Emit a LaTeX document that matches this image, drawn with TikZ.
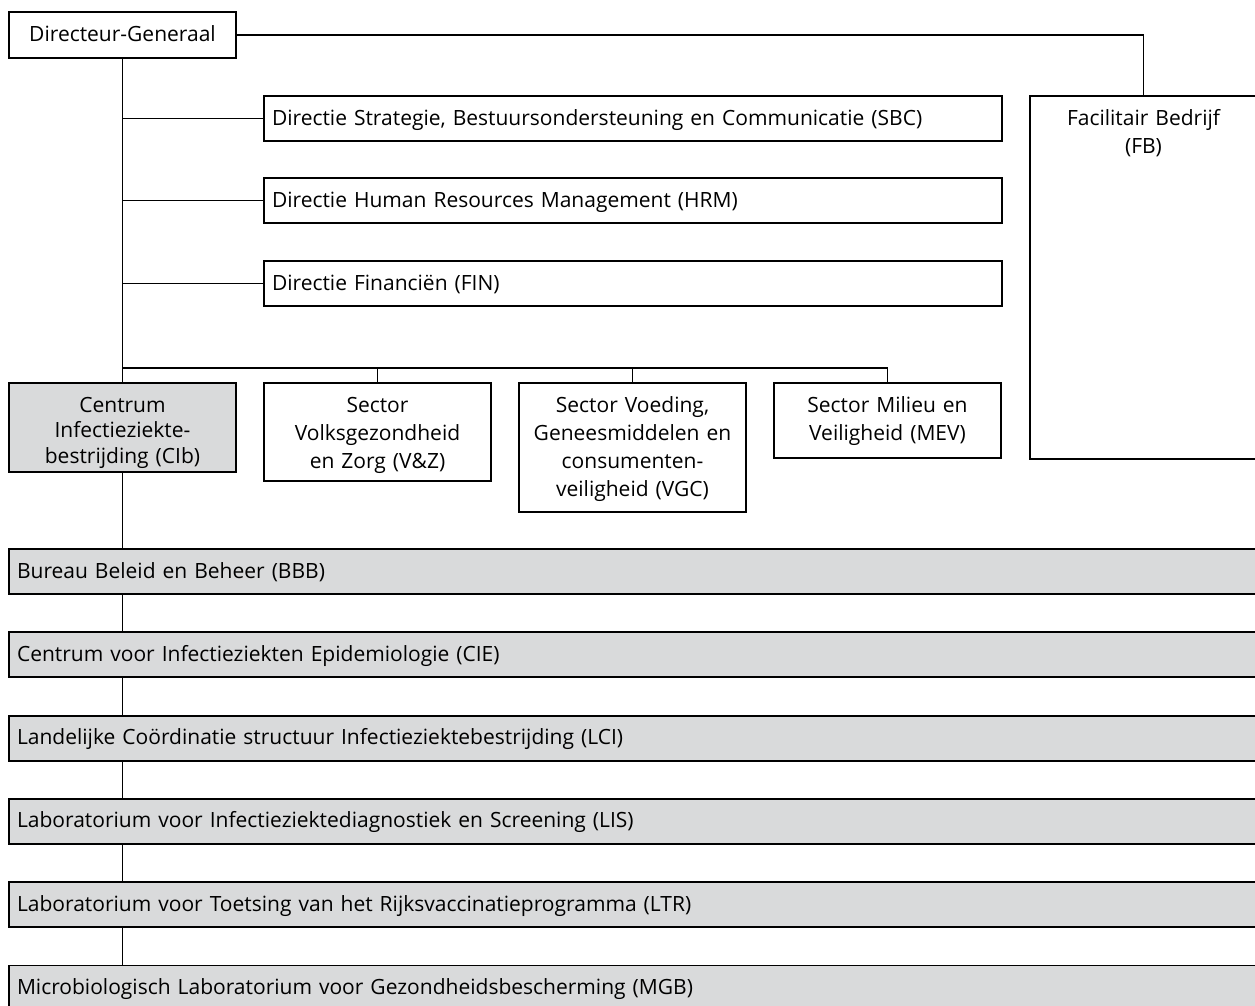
\documentclass[tikz,border=0pt]{standalone}
\usepackage{fontspec}
\setmainfont{Open Sans}
\usetikzlibrary{positioning}
\definecolor{cibgray}{RGB}{217,218,219}

\begin{document}
\begin{tikzpicture}[every node/.style={draw, line width=1.8pt, rectangle, outer sep=0pt, inner xsep=8pt, inner ysep=0pt, text height=29pt, font=\fontsize{21}{28}\selectfont},
	unitbox/.style={text width=211pt, align=center},
	dirbox/.style={text width=722pt, align=left, text depth=16pt},
	barbox/.style={fill=cibgray, text width=1232pt, align=left, text depth=16pt},
	line width=1.7pt]
	\useasboundingbox (0,0) rectangle (1255pt,-1005pt);
	\node[unitbox, anchor=north west, text depth=17pt] at (9pt,-12pt)(dg) {Directeur-Generaal};
%     % staf
    \node[dirbox, below right=38pt and 28pt of dg.south east](sbc) {Directie Strategie, Bestuursondersteuning en Communicatie (SBC)};
    \node[dirbox, below=37pt of sbc](hrm) {Directie Human Resources Management (HRM)};
    \node[dirbox, below=38pt of hrm](fin) {Directie Financiën (FIN)};
    \node[unitbox, right=28pt of sbc.north east, anchor=north west, text depth=334pt](fb) {Facilitair Bedrijf\\(FB)};
    \draw (sbc.west -| dg.south) -- (sbc.west);
    \draw (hrm.west -| dg.south) -- (hrm.west);
    \draw (fin.west -| dg.south) -- (fin.west);
    \draw (dg.east) -| (fb.north);
%     % sectoren
    \node[unitbox, fill=cibgray, below=325pt of dg.south, text depth=60pt, font=\fontsize{21}{25.5}\selectfont](cib) {Centrum\\Infectieziekte-\\bestrijding (CIb)};
    \node[unitbox, right=28pt of cib.north east, anchor=north west, text depth=69pt](vz) {Sector\\Volksgezondheid\\en Zorg (V\&Z)};
    \node[unitbox, right=28pt of vz.north east, anchor=north west, text depth=100pt](vgc) {Sector Voeding,\\Geneesmiddelen en\\consumenten-\\veiligheid (VGC)};
    \node[unitbox, right=28pt of vgc.north east, anchor=north west, text depth=46pt](mev) {Sector Milieu en\\Veiligheid (MEV)};
    \coordinate[above=15pt of mev.north](mevtop);
    \draw (dg) -- (cib);
    \draw (mevtop -| dg.south) -- (mevtop) -- (mev.north);
    \draw (vz.north |- mevtop) -- (vz.north);
    \draw (vgc.north |- mevtop) -- (vgc.north);
    % CIb %% below
    \node[barbox, below=77pt of cib.south west, anchor=north west](bbb) {Bureau Beleid en Beheer (BBB)};
    \node[barbox, below=38.3pt of bbb](cie) {Centrum voor Infectieziekten Epidemiologie (CIE)};
    \node[barbox, below=38.3pt of cie](lci) {Landelijke Coördinatie structuur Infectieziektebestrijding (LCI)};
    \node[barbox, below=38.3pt of lci](lis) {Laboratorium voor Infectieziektediagnostiek en Screening (LIS)};
    \node[barbox, below=38.3pt of lis](ltr) {Laboratorium voor Toetsing van het Rijksvaccinatieprogramma (LTR)};
    \node[barbox, below=38.3pt of ltr](mgb) {Microbiologisch Laboratorium voor Gezondheidsbescherming (MGB)};
    %
    \draw (cib.south) -- (cib.south |- bbb.north);
    \draw (cib.south |- bbb.south) -- (cib.south |- cie.north);
    \draw (cib.south |- cie.south) -- (cib.south |- lci.north);
    \draw (cib.south |- lci.south) -- (cib.south |- lis.north);
    \draw (cib.south |- lis.south) -- (cib.south |- ltr.north);
    \draw (cib.south |- ltr.south) -- (cib.south |- mgb.north);
\end{tikzpicture}
\end{document}
